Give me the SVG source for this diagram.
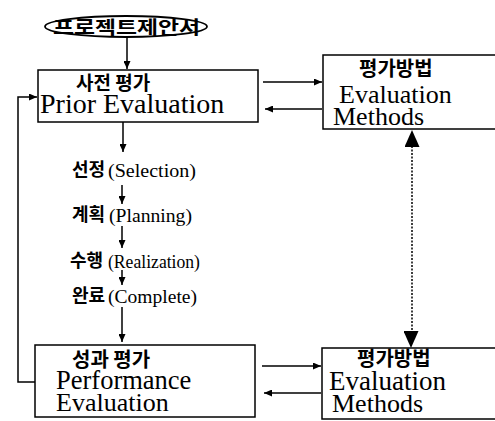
<svg xmlns="http://www.w3.org/2000/svg" width="495" height="421" viewBox="0 0 495 421">
<defs>
<marker id="ah" viewBox="0 0 10 10" refX="10" refY="5" markerWidth="8" markerHeight="7" markerUnits="userSpaceOnUse" orient="auto" preserveAspectRatio="none">
<path d="M0,0 L10,5 L0,10 Z" fill="#000"/>
</marker>
<marker id="big" viewBox="0 0 10 10" refX="10" refY="5" markerWidth="17" markerHeight="15" markerUnits="userSpaceOnUse" orient="auto" preserveAspectRatio="none">
<path d="M0,0 L10,5 L0,10 Z" fill="#000"/>
</marker>
<style>
.box{fill:#fff;stroke:#000;stroke-width:1.5}
.ln{fill:none;stroke:#000;stroke-width:1.5}
.ko{font-family:"Noto Sans CJK KR","Noto Sans",sans-serif;font-weight:bold;fill:#000}
.en{font-family:"Liberation Serif","Times New Roman",serif;fill:#000}
</style>
</defs>
<rect width="495" height="421" fill="#fff"/>
<g id="connectors">
<line class="ln" x1="127" y1="37" x2="127" y2="69" marker-end="url(#ah)"/>
<line class="ln" x1="263" y1="82" x2="322" y2="82" marker-end="url(#ah)"/>
<line class="ln" x1="322" y1="109" x2="265" y2="109" marker-end="url(#ah)"/>
<line class="ln" x1="123" y1="122" x2="123" y2="152" marker-end="url(#ah)"/>
<line class="ln" x1="122" y1="185" x2="122" y2="204" marker-end="url(#ah)"/>
<line class="ln" x1="122" y1="226" x2="122" y2="248" marker-end="url(#ah)"/>
<line class="ln" x1="122" y1="270" x2="122" y2="285" marker-end="url(#ah)"/>
<line class="ln" x1="122" y1="307" x2="122" y2="342" marker-end="url(#ah)"/>
<line class="ln" x1="262" y1="366" x2="321" y2="366" marker-end="url(#ah)"/>
<line class="ln" x1="321" y1="393" x2="264" y2="393" marker-end="url(#ah)"/>
<polyline class="ln" points="35,382 18,382 18,97 37,97" marker-end="url(#ah)"/>
<line x1="412" y1="146" x2="412" y2="333" stroke="#000" stroke-width="1.5" stroke-dasharray="2,1.5"/>
<line x1="412" y1="147" x2="412" y2="130" stroke="none" marker-end="url(#big)"/>
<line x1="411" y1="332" x2="411" y2="348" stroke="none" marker-end="url(#big)"/>
<line x1="489" y1="68" x2="495" y2="68" stroke="#000" stroke-width="1"/>
</g>
<g id="start">
<ellipse cx="126" cy="26.5" rx="81" ry="10.5" fill="#fff" stroke="#000" stroke-width="1.8"/>
<text class="ko" x="53" y="34" font-size="18" textLength="147" lengthAdjust="spacingAndGlyphs">프로젝트제안서</text>
</g>
<g id="prior">
<rect class="box" x="38" y="70" width="220" height="52"/>
<text class="ko" x="76" y="90" font-size="19">사전 평가</text>
<text class="en" x="40" y="113" font-size="28">Prior Evaluation</text>
</g>
<g id="methods1">
<rect class="box" x="323" y="55" width="180" height="74"/>
<text class="ko" x="359" y="76" font-size="20">평가방법</text>
<text class="en" x="339" y="103" font-size="26">Evaluation</text>
<text class="en" x="333" y="125" font-size="26">Methods</text>
</g>
<g id="selection">
<text x="72" y="176"><tspan class="ko" font-size="18">선정</tspan><tspan class="en" x="108" y="177" font-size="18" textLength="88" lengthAdjust="spacingAndGlyphs">(Selection)</tspan></text>
</g>
<g id="planning">
<text x="72" y="221"><tspan class="ko" font-size="18">계획</tspan><tspan class="en" x="109" y="222" font-size="18" textLength="83" lengthAdjust="spacingAndGlyphs">(Planning)</tspan></text>
</g>
<g id="realization">
<text x="70" y="267"><tspan class="ko" font-size="18">수행</tspan><tspan class="en" x="108" y="268" font-size="18" textLength="92" lengthAdjust="spacingAndGlyphs">(Realization)</tspan></text>
</g>
<g id="complete">
<text x="72" y="302"><tspan class="ko" font-size="18">완료</tspan><tspan class="en" x="108" y="303" font-size="18" textLength="89" lengthAdjust="spacingAndGlyphs">(Complete)</tspan></text>
</g>
<g id="performance">
<rect class="box" x="35" y="345" width="220" height="72"/>
<text class="ko" x="72" y="367" font-size="20">성과 평가</text>
<text class="en" x="56" y="389" font-size="26.5">Performance</text>
<text class="en" x="56" y="411" font-size="26">Evaluation</text>
</g>
<g id="methods2">
<rect class="box" x="322" y="348" width="180" height="71"/>
<text class="ko" x="357" y="366" font-size="20">평가방법</text>
<text class="en" x="329" y="390" font-size="27">Evaluation</text>
<text class="en" x="332" y="412" font-size="26">Methods</text>
</g>
</svg>
